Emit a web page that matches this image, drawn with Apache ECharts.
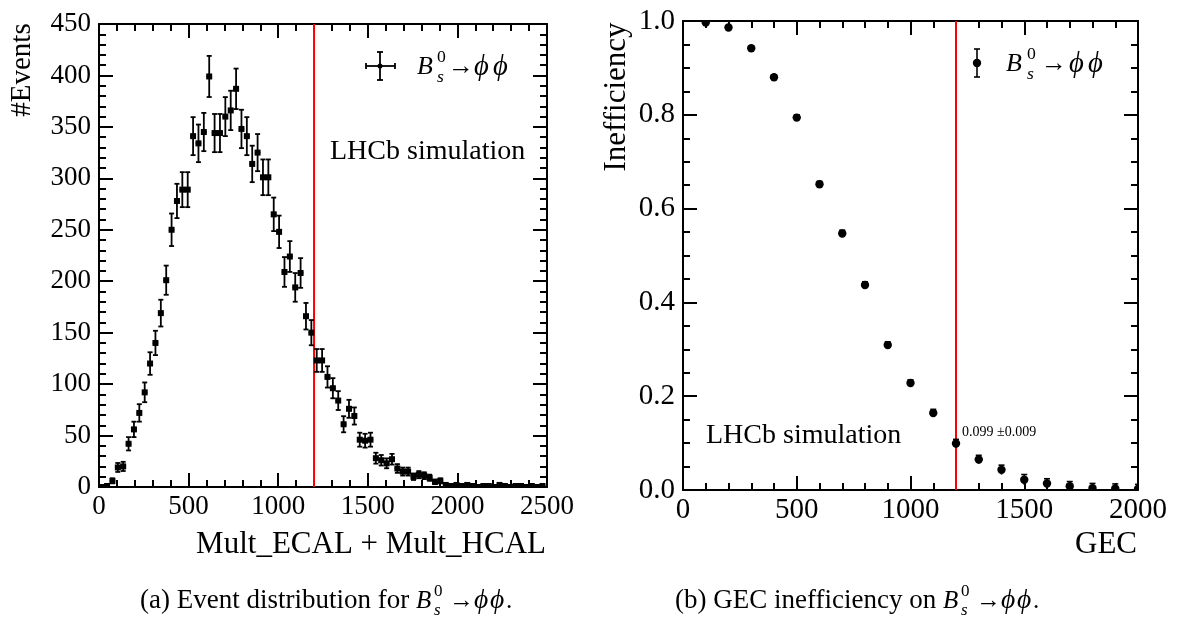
<!DOCTYPE html>
<html>
<head>
<meta charset="utf-8">
<script src="https://cdn.jsdelivr.net/npm/echarts@6/dist/echarts.min.js"></script>
<style>
html,body{margin:0;padding:0;background:#fff;}
#c{width:1178px;height:619px;}
</style>
</head>
<body>
<div id="c"></div>
<script>
// ---------- DATA ----------
// (a) histogram: bin width 30, bins starting at 0
const binWidth = 30;
const eventCounts = [
  0, 1, 6, 19, 20, 42, 56, 72, 92, 120,
  140, 169, 201, 250, 278, 289, 289, 341, 334, 345,
  399, 344, 344, 360, 366, 387, 348, 341, 314, 325,
  301, 301, 265, 248, 209, 224, 194, 208, 166, 150,
  123, 123, 107, 96, 84, 61, 76, 69, 46, 45,
  46, 28, 26, 23, 27, 18, 15, 15, 10, 12,
  11, 9, 5, 6, 2, 1, 2, 1, 2, 1,
  0, 1, 1, 0, 2, 1, 0, 1, 1, 0,
  1, 0, 1
];
const cutValue = 1200;
const leftXTicks = [0, 500, 1000, 1500, 2000, 2500];
const leftYTicks = [0, 50, 100, 150, 200, 250, 300, 350, 400, 450];

// (b) inefficiency vs GEC cut
const gecCuts = [100, 200, 300, 400, 500, 600, 700, 800, 900, 1000,
                 1100, 1200, 1300, 1400, 1500, 1600, 1700, 1800, 1900, 2000];
const inefficiency = [0.997, 0.986, 0.942, 0.880, 0.794, 0.652, 0.547, 0.437, 0.309, 0.228,
                      0.164, 0.099, 0.065, 0.043, 0.022, 0.014, 0.008, 0.004, 0.003, 0.002];
const inefficiencyErr = [0.002, 0.003, 0.004, 0.005, 0.006, 0.006, 0.007, 0.007, 0.007, 0.007,
                         0.008, 0.009, 0.009, 0.010, 0.011, 0.010, 0.010, 0.010, 0.010, 0.010];
const rightXTicks = [0, 500, 1000, 1500, 2000];
const rightYTicks = [0.0, 0.2, 0.4, 0.6, 0.8, 1.0];

// ---------- helpers ----------
const SERIF = '"Liberation Serif", "DejaVu Serif", serif';
const mctx = document.createElement('canvas').getContext('2d');
function tw(text, size, italic) {
  mctx.font = (italic ? 'italic ' : '') + size + 'px ' + SERIF;
  return mctx.measureText(text).width;
}
function txt(x, y, text, size, opts) {
  opts = opts || {};
  return {
    type: 'text', x: x, y: y, rotation: opts.rotation || 0, silent: true,
    style: {
      text: text, fill: '#000', fontSize: size, fontFamily: SERIF,
      fontStyle: opts.italic ? 'italic' : 'normal',
      align: opts.align || 'left', verticalAlign: opts.valign || 'middle'
    }
  };
}
// "B_s^0 -> phi phi": offs = [sub/sup, arrow, phi1, phi2, tail]
function decay(x, y, size, offs, tail) {
  const els = [];
  const s2 = size * 0.68;
  els.push(txt(x, y, 'B', size, {italic: true}));
  els.push(txt(x + offs[0], y - size * 0.36, '0', s2));
  els.push(txt(x + offs[0], y + size * 0.38, 's', s2, {italic: true}));
  els.push(txt(x + offs[1], y, '\u2192', size));
  els.push(txt(x + offs[2], y, '\u03D5', size * 1.1, {italic: true}));
  els.push(txt(x + offs[3], y, '\u03D5', size * 1.1, {italic: true}));
  if (tail) els.push(txt(x + offs[4], y, tail, size));
  return els;
}

// ---------- series data ----------
const histData = eventCounts.map((v, i) => [(i + 0.5) * binWidth, v, Math.sqrt(v)]);
const effData = gecCuts.map((g, i) => [g, inefficiency[i], inefficiencyErr[i]]);

function histItem(params, api) {
  const x = api.value(0), y = api.value(1), e = api.value(2);
  const c = api.coord([x, y]);
  const t = api.coord([x, y + e]);
  const b = api.coord([x, Math.max(0, y - e)]);
  const l = api.coord([x - binWidth / 2, y]);
  const r = api.coord([x + binWidth / 2, y]);
  const st = {stroke: '#000', lineWidth: 1.8};
  const ch = [
    {type: 'line', shape: {x1: c[0], y1: t[1], x2: c[0], y2: b[1]}, style: st},
    {type: 'line', shape: {x1: l[0], y1: c[1], x2: r[0], y2: c[1]}, style: st},
    {type: 'rect', shape: {x: c[0] - 3, y: c[1] - 3, width: 6, height: 6}, style: {fill: '#000'}}
  ];
  if (e > 0) {
    ch.push({type: 'line', shape: {x1: c[0] - 2.5, y1: t[1], x2: c[0] + 2.5, y2: t[1]}, style: st});
    ch.push({type: 'line', shape: {x1: c[0] - 2.5, y1: b[1], x2: c[0] + 2.5, y2: b[1]}, style: st});
  }
  return {type: 'group', children: ch};
}
function effItem(params, api) {
  const x = api.value(0), y = api.value(1), e = api.value(2);
  const c = api.coord([x, y]);
  const t = api.coord([x, y + e]);
  const b = api.coord([x, Math.max(0, y - e)]);
  const st = {stroke: '#000', lineWidth: 1.6};
  return {type: 'group', children: [
    {type: 'line', shape: {x1: c[0], y1: t[1], x2: c[0], y2: b[1]}, style: st},
    {type: 'line', shape: {x1: c[0] - 3, y1: t[1], x2: c[0] + 3, y2: t[1]}, style: st},
    {type: 'circle', shape: {cx: c[0], cy: c[1], r: 4.2}, style: {fill: '#000'}}
  ]};
}

// ---------- axes ----------
const lineStyle = {color: '#000', width: 2};
const plain = v => String(v);
function xAx(grid, pos, min, max, ticks, labels, size) {
  return {
    type: 'value', gridIndex: grid, position: pos, min: min, max: max,
    interval: ticks[1] - ticks[0],
    axisLine: {show: true, onZero: false, lineStyle: lineStyle},
    axisTick: {show: true, inside: true, length: 14, lineStyle: {color: '#000', width: 2}},
    minorTick: {show: true, splitNumber: 5, length: 7, lineStyle: {color: '#000', width: 2}},
    splitLine: {show: false},
    axisLabel: {show: labels, color: '#000', fontSize: size, fontFamily: SERIF, margin: 6,
                showMinLabel: true, showMaxLabel: true, formatter: plain}
  };
}
function yAx(grid, pos, min, max, ticks, labels, size, minorSplit, fmt) {
  return {
    type: 'value', gridIndex: grid, position: pos, min: min, max: max,
    interval: +(ticks[1] - ticks[0]).toFixed(6),
    axisLine: {show: true, onZero: false, lineStyle: lineStyle},
    axisTick: {show: true, inside: true, length: 14, lineStyle: {color: '#000', width: 2}},
    minorTick: {show: true, splitNumber: minorSplit, length: 7, lineStyle: {color: '#000', width: 2}},
    splitLine: {show: false},
    axisLabel: {show: labels, color: '#000', fontSize: size, fontFamily: SERIF, margin: 8,
                showMinLabel: true, showMaxLabel: true, formatter: fmt || plain}
  };
}

const option = {
  backgroundColor: '#fff',
  animation: false,
  grid: [
    {left: 99, top: 24, width: 448, height: 463},
    {left: 683, top: 21, width: 455, height: 469}
  ],
  xAxis: [
    xAx(0, 'bottom', 0, leftXTicks[leftXTicks.length - 1], leftXTicks, true, 27),
    xAx(0, 'top', 0, leftXTicks[leftXTicks.length - 1], leftXTicks, false, 27),
    xAx(1, 'bottom', 0, rightXTicks[rightXTicks.length - 1], rightXTicks, true, 29),
    xAx(1, 'top', 0, rightXTicks[rightXTicks.length - 1], rightXTicks, false, 29)
  ],
  yAxis: [
    yAx(0, 'left', 0, leftYTicks[leftYTicks.length - 1], leftYTicks, true, 27, 5),
    yAx(0, 'right', 0, leftYTicks[leftYTicks.length - 1], leftYTicks, false, 27, 5),
    yAx(1, 'left', 0, 1, rightYTicks, true, 29, 4, v => v.toFixed(1)),
    yAx(1, 'right', 0, 1, rightYTicks, false, 29, 4)
  ],
  series: [
    {type: 'line', xAxisIndex: 0, yAxisIndex: 0, data: [[cutValue, 0], [cutValue, 450]],
     symbol: 'none', lineStyle: {color: '#ff0000', width: 2}, silent: true, z: 1},
    {type: 'custom', xAxisIndex: 0, yAxisIndex: 0, data: histData, renderItem: histItem, clip: true, z: 3},
    {type: 'line', xAxisIndex: 2, yAxisIndex: 2, data: [[cutValue, 0], [cutValue, 1]],
     symbol: 'none', lineStyle: {color: '#ff0000', width: 2}, silent: true, z: 1},
    {type: 'custom', xAxisIndex: 2, yAxisIndex: 2, data: effData, renderItem: effItem, clip: true, z: 3}
  ],
  graphic: []
};

const g = [];
// axis titles
g.push(txt(22, 70, '#Events', 29, {rotation: Math.PI / 2, align: 'center'}));
g.push(txt(617, 97, 'Inefficiency', 31, {rotation: Math.PI / 2, align: 'center'}));
g.push(txt(546, 545, 'Mult_ECAL + Mult_HCAL', 31, {align: 'right'}));
g.push(txt(1137, 545, 'GEC', 31, {align: 'right'}));
// labels
g.push(txt(330, 152, 'LHCb simulation', 28));
g.push(txt(706, 436, 'LHCb simulation', 28));
g.push(txt(962, 432, '0.099 \u00B10.009', 14));
// legend (a)
const st = {stroke: '#000', lineWidth: 1.8};
g.push({type: 'line', shape: {x1: 366, y1: 66, x2: 395, y2: 66}, style: st});
g.push({type: 'line', shape: {x1: 380, y1: 52, x2: 380, y2: 80}, style: st});
g.push({type: 'line', shape: {x1: 377, y1: 52, x2: 383, y2: 52}, style: st});
g.push({type: 'line', shape: {x1: 377, y1: 80, x2: 383, y2: 80}, style: st});
g.push({type: 'line', shape: {x1: 366, y1: 63, x2: 366, y2: 69}, style: st});
g.push({type: 'line', shape: {x1: 395, y1: 63, x2: 395, y2: 69}, style: st});
g.push({type: 'circle', shape: {cx: 380, cy: 66, r: 2.5}, style: {fill: '#000'}});
decay(417, 67, 26, [20, 31, 57, 76]).forEach(e => g.push(e));
// legend (b)
g.push({type: 'line', shape: {x1: 977, y1: 49, x2: 977, y2: 77}, style: {stroke: '#000', lineWidth: 1.6}});
g.push({type: 'line', shape: {x1: 974, y1: 49, x2: 980, y2: 49}, style: {stroke: '#000', lineWidth: 1.6}});
g.push({type: 'line', shape: {x1: 974, y1: 77, x2: 980, y2: 77}, style: {stroke: '#000', lineWidth: 1.6}});
g.push({type: 'circle', shape: {cx: 977, cy: 63, r: 4.2}, style: {fill: '#000'}});
decay(1006, 64, 26, [21, 35, 63, 82]).forEach(e => g.push(e));
// captions (centred under each panel)
(function () {
  const s = 27;
  const a = '(a) Event distribution for ';
  const b = '(b) GEC inefficiency on ';
  const offs = [18, 33, 58, 74, 90];
  const mathW = 96;
  const xa = 326 - (tw(a, s) + mathW) / 2;
  const xb = 857 - (tw(b, s) + mathW) / 2;
  g.push(txt(xa, 601, a, s));
  decay(xa + tw(a, s), 601, s - 2, offs, '.').forEach(e => g.push(e));
  g.push(txt(xb, 601, b, s));
  decay(xb + tw(b, s), 601, s - 2, offs, '.').forEach(e => g.push(e));
})();
option.graphic = g;

const chart = echarts.init(document.getElementById('c'), null, {renderer: 'canvas'});
chart.setOption(option);
</script>
</body>
</html>
